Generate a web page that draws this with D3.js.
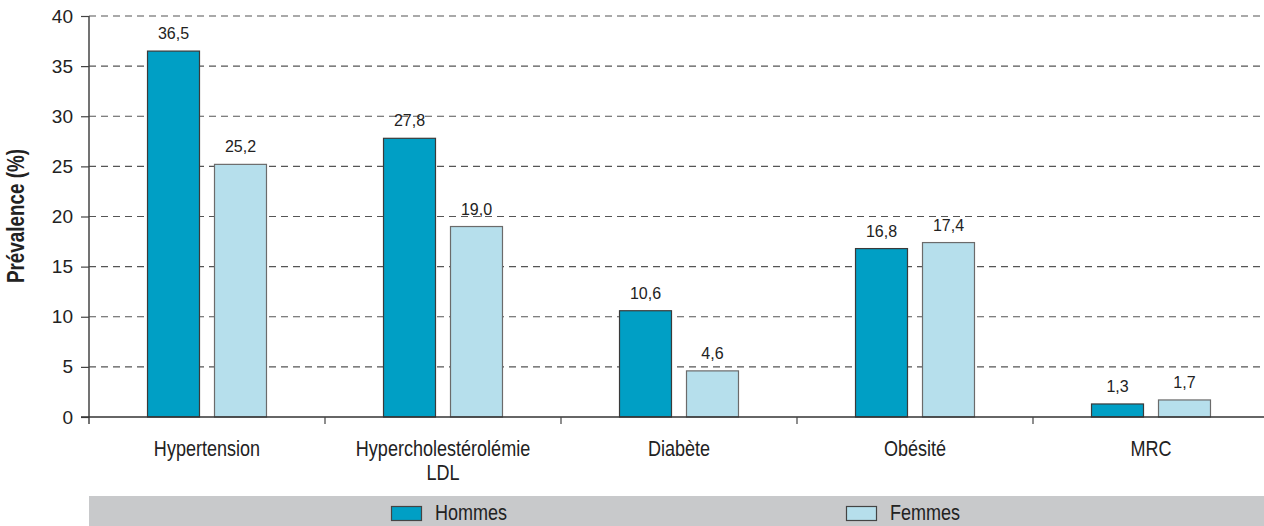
<!DOCTYPE html>
<html>
<head>
<meta charset="utf-8">
<script src="https://cdn.jsdelivr.net/npm/d3@7/dist/d3.min.js"></script>
<style>
  html, body { margin: 0; padding: 0; background: #fff; }
  svg { display: block; }
  text { font-family: "Liberation Sans", Arial, sans-serif; }
</style>
</head>
<body>
<svg id="chart" width="1264" height="526"></svg>
<script>
// Prévalence des facteurs de risque par sexe
const categories = ["Hypertension", "Hypercholestérolémie\nLDL", "Diabète", "Obésité", "MRC"];
const series = ["Hommes", "Femmes"];
const hommes = [36.5, 27.8, 10.6, 16.8, 1.3];
const femmes = [25.2, 19.0, 4.6, 17.4, 1.7];
const yTicks = [0, 5, 10, 15, 20, 25, 30, 35, 40];
const colors = { Hommes: "#009fc5", Femmes: "#b6dfec" };

// horizontal squeeze giving the condensed typeface look
const condense = 0.82;

const svg = d3.select("#chart");

const plotLeft = 89, plotRight = 1264, bandEnd = 1269;
const y = d3.scaleLinear().domain([0, 40]).range([417, 16]);
const x = d3.scaleBand().domain(categories).range([plotLeft, bandEnd]).padding(0);
const xs = d3.scaleBand().domain(series).range([0, x.bandwidth()])
  .paddingInner(0.209).paddingOuter(0.866);

// horizontal dashed gridlines
const grid = svg.append("g");
grid.selectAll("line.grid").data(yTicks.filter(d => d > 0)).join("line")
  .attr("x1", plotLeft).attr("x2", plotRight)
  .attr("y1", d => y(d)).attr("y2", d => y(d))
  .attr("stroke", "#555").attr("stroke-width", 1.2)
  .attr("stroke-dasharray", "7,5");

// bars
const rows = series.map((s, i) => ({ s, vals: i === 0 ? hommes : femmes }));
const data = [];
rows.forEach(r => r.vals.forEach((v, j) => data.push({ cat: categories[j], s: r.s, v })));

svg.append("g").selectAll("rect").data(data).join("rect")
  .attr("x", d => x(d.cat) + xs(d.s) + 0.5)
  .attr("y", d => y(d.v))
  .attr("width", xs.bandwidth() - 1)
  .attr("height", d => y(0) - y(d.v))
  .attr("fill", d => colors[d.s])
  .attr("stroke", d => d.s === "Hommes" ? "#3a3a3a" : "#6b6b6b")
  .attr("stroke-width", 1.2);

// value labels
svg.append("g").selectAll("text").data(data).join("text")
  .attr("x", d => x(d.cat) + xs(d.s) + xs.bandwidth() / 2)
  .attr("y", d => y(d.v) - 12)
  .attr("text-anchor", "middle")
  .attr("font-size", 16)
  .attr("fill", "#222")
  .text(d => d.v.toFixed(1).replace(".", ","));

// y axis
const yAxis = d3.axisLeft(y).tickValues(yTicks).tickSize(8).tickPadding(8).tickFormat(d => d);
const gy = svg.append("g").attr("transform", `translate(${plotLeft},0)`).call(yAxis);
gy.select(".domain").attr("stroke", "#444").attr("stroke-width", 1.5)
  .attr("d", `M0,${y(40)}V${y(0) + 7}`);
gy.selectAll(".tick line").attr("stroke", "#444").attr("stroke-width", 1.2);
gy.selectAll(".tick text").attr("font-size", 19).attr("fill", "#222")
  .attr("font-family", "'Liberation Sans', Arial, sans-serif");

// x axis: baseline plus boundary ticks between categories
const gx = svg.append("g");
gx.append("line").attr("x1", plotLeft - 8).attr("x2", plotRight)
  .attr("y1", y(0)).attr("y2", y(0)).attr("stroke", "#333").attr("stroke-width", 1.5);
gx.selectAll("line.b").data(categories.slice(1)).join("line")
  .attr("x1", d => x(d)).attr("x2", d => x(d))
  .attr("y1", y(0)).attr("y2", y(0) + 7)
  .attr("stroke", "#444").attr("stroke-width", 1.2);

// category labels
const cl = gx.selectAll("text").data(categories).join("text")
  .attr("text-anchor", "middle")
  .attr("font-size", 22)
  .attr("fill", "#222")
  .attr("transform", d => `translate(${x(d) + x.bandwidth() / 2},456) scale(${condense},1)`);
cl.each(function(d) {
  const lines = d.split("\n");
  d3.select(this).selectAll("tspan").data(lines).join("tspan")
    .attr("x", 0).attr("dy", (l, i) => i === 0 ? 0 : 24).text(l => l);
});

// y axis title
svg.append("text")
  .attr("transform", `translate(24,216) rotate(-90) scale(${condense},1)`)
  .attr("text-anchor", "middle")
  .attr("font-size", 23)
  .attr("font-weight", "bold")
  .attr("fill", "#222")
  .text("Prévalence (%)");

// legend band
const lg = svg.append("g");
lg.append("rect").attr("x", plotLeft).attr("y", 496).attr("width", plotRight - plotLeft).attr("height", 30)
  .attr("fill", "#c8c9cb");
const legendX = { Hommes: 391, Femmes: 846 };
const li = lg.selectAll("g.item").data(series).join("g")
  .attr("transform", d => `translate(${legendX[d]},0)`);
li.append("rect").attr("x", 0.5).attr("y", 506.5).attr("width", 30).attr("height", 14)
  .attr("fill", d => colors[d]).attr("stroke", "#444").attr("stroke-width", 1.2);
li.append("text")
  .attr("transform", `translate(44,520) scale(${condense},1)`)
  .attr("font-size", 22).attr("fill", "#222").text(d => d);
</script>
</body>
</html>
